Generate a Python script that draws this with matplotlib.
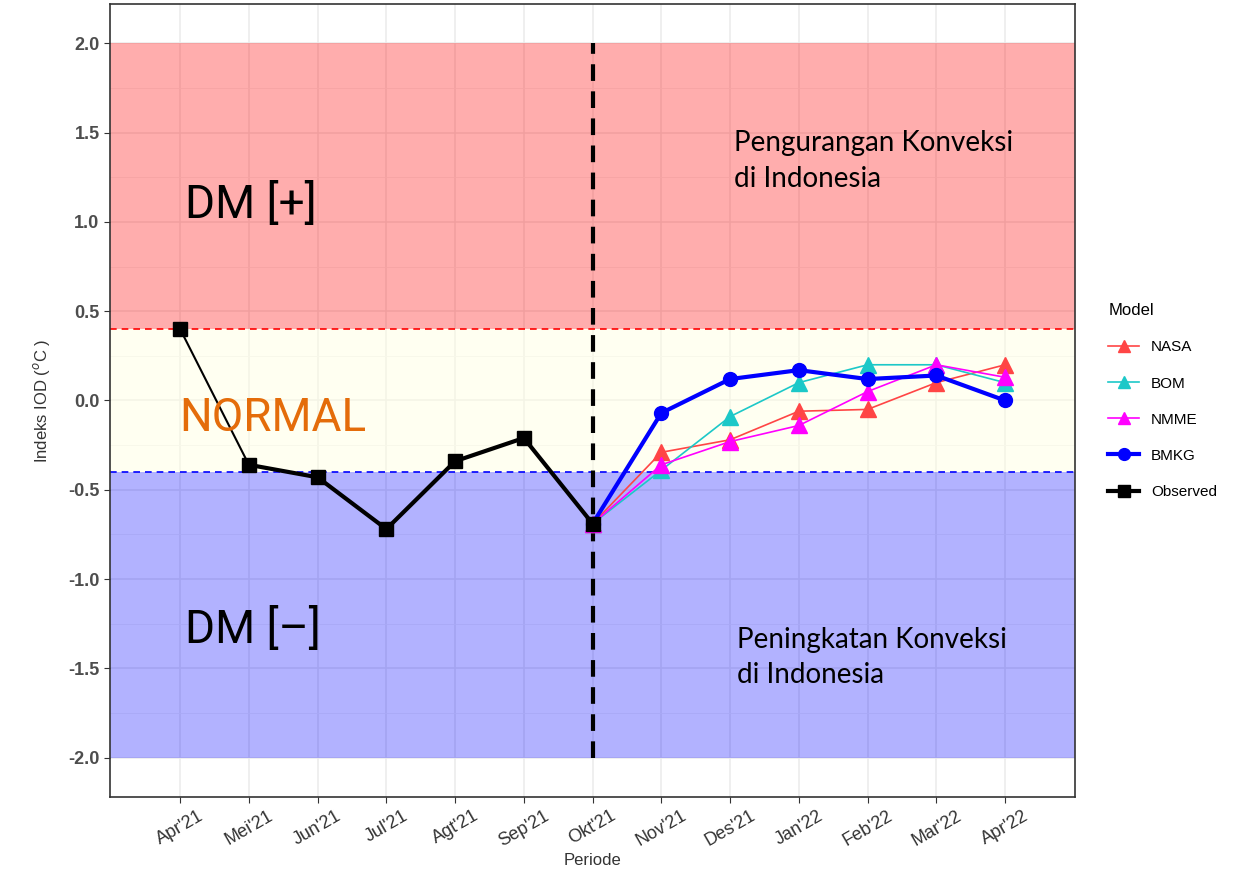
import numpy as np
import matplotlib
matplotlib.use('Agg')
import matplotlib.pyplot as plt

# data
periode = ["Apr'21", "Mei'21", "Jun'21", "Jul'21", "Agt'21", "Sep'21", "Okt'21",
           "Nov'21", "Des'21", "Jan'22", "Feb'22", "Mar'22", "Apr'22"]
observed = [0.40, -0.36, -0.43, -0.72, -0.34, -0.21, -0.69]
# forecasts start from Okt'21
nasa = [-0.69, -0.29, -0.22, -0.06, -0.05, 0.10, 0.20]
bom = [-0.69, -0.39, -0.09, 0.10, 0.20, 0.20, 0.10]
nmme = [-0.69, -0.36, -0.23, -0.14, 0.05, 0.20, 0.13]
bmkg = [-0.69, -0.07, 0.12, 0.17, 0.12, 0.14, 0.00]

plt.rcParams['font.family'] = ['Liberation Sans', 'DejaVu Sans']

fig = plt.figure(figsize=(12.43, 8.89), dpi=100)
ax = fig.add_axes([0.0885, 0.1035, 0.7765, 0.892])

x = np.arange(len(periode))
xo = x[:7]
xf = x[6:]

# bands
ax.axhspan(0.4, 2.0, color='#FF0000', alpha=0.32, lw=0, zorder=1)
ax.axhspan(-0.4, 0.4, color='#FFFFE0', alpha=0.45, lw=0, zorder=1)
ax.axhspan(-2.0, -0.4, color='#0000FF', alpha=0.30, lw=0, zorder=1)
ax.axhline(0.4, color='red', ls=(0, (4, 3)), lw=1.2, zorder=2)
ax.axhline(-0.4, color='blue', ls=(0, (4, 3)), lw=1.2, zorder=2)
ax.vlines(6, -2.0, 2.0, color='black', ls=(0, (4, 2.5)), lw=3, zorder=3)

# grid
ax.set_yticks(np.arange(-2, 2.01, 0.5))
ax.set_yticks(np.arange(-2.25, 2.3, 0.5), minor=True)
ax.grid(True, which='major', color='#EBEBEB', lw=1.1, zorder=0)
ax.grid(True, which='minor', axis='y', color='#F2F2F2', lw=0.6, zorder=0)
ax.set_axisbelow(True)

# series
ax.plot(xf, nasa, color='#FF4545', lw=1.2, marker='^', ms=11, zorder=4, label='NASA')
ax.plot(xf, bom, color='#1CC8C8', lw=1.2, marker='^', ms=11, zorder=4, label='BOM')
ax.plot(xf, nmme, color='#FF00FF', lw=1.2, marker='^', ms=11, zorder=4, label='NMME')
ax.plot(xf, bmkg, color='#0000FF', lw=3, marker='o', ms=10, zorder=5, label='BMKG')
ax.plot(xo[:2], observed[:2], color='black', lw=1.5, zorder=6)
ax.plot(xo[1:], observed[1:], color='black', lw=3, zorder=6)
ax.plot(xo, observed, color='black', lw=0, marker='s', ms=10, zorder=6)
ax.plot([], [], color='black', lw=3, marker='s', ms=10, label='Observed')

# annotations
big = dict(fontsize=33, family='Roboto', va='center', ha='left', zorder=7)
ax.text(0.07, 1.10, 'DM [+]', **big)
ax.text(-0.02, -0.10, 'NORMAL', color='#E46C0A', **big)
ax.text(0.07, -1.28, 'DM [\u2013]', **big)
ax.text(8.05, 1.34, 'Pengurangan Konveksi\ndi Indonesia', fontsize=20, family='Lato',
        va='center', ha='left', linespacing=1.45, zorder=7)
ax.text(8.1, -1.44, 'Peningkatan Konveksi\ndi Indonesia', fontsize=20, family='Lato',
        va='center', ha='left', linespacing=1.45, zorder=7)

ax.set_xlim(-1.02, 13.02)
ax.set_ylim(-2.22, 2.22)
ax.set_xticks(x)
ax.set_xticklabels(periode, rotation=30, fontsize=13, color='#333333')
ax.set_yticklabels(['%.1f' % v for v in np.arange(-2, 2.01, 0.5)], fontsize=13,
                   fontweight='bold', color='#4D4D4D')
ax.tick_params(axis='both', which='major', direction='out', length=4, color='#333333')
ax.tick_params(axis='y', which='minor', length=0)
for s in ax.spines.values():
    s.set_color('#333333')
    s.set_linewidth(1.2)
ax.set_xlabel('Periode', fontsize=12, color='#333333', labelpad=2)
ax.set_ylabel('Indeks IOD ($^{o}$C )', fontsize=12, color='#333333', labelpad=12)

leg = ax.legend(loc='upper left', bbox_to_anchor=(1.02, 0.64), frameon=False,
                title='Model', fontsize=11, title_fontsize=12, labelspacing=1.45,
                handlelength=2.0, markerscale=0.85, alignment='left')

fig.savefig('out.png', dpi=100)
